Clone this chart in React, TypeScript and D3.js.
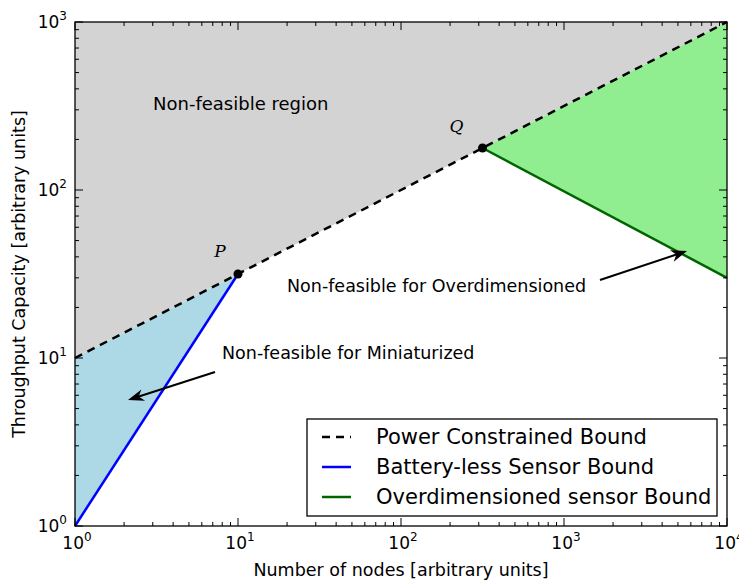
import React from "react";
import * as d3 from "d3";

// Bound lines (x = number of nodes, y = throughput capacity)
const powerBound: [number, number][] = [
  [1, 10],
  [10000, 1000],
];
const batterylessBound: [number, number][] = [
  [1, 1],
  [10, 31.62],
];
const overdimBound: [number, number][] = [
  [316.2, 177.8],
  [10000, 30],
];
const pointP: [number, number] = [10, 31.62];
const pointQ: [number, number] = [316.2, 177.8];

const xDomain: [number, number] = [1, 10000];
const yDomain: [number, number] = [1, 1000];
const xMajorExps = [0, 1, 2, 3, 4];
const yMajorExps = [0, 1, 2, 3];

const legendItems = [
  { label: "Power Constrained Bound", color: "#000000", dash: "8,6" },
  { label: "Battery-less Sensor Bound", color: "#0000ff", dash: "" },
  { label: "Overdimensioned sensor Bound", color: "#006400", dash: "" },
];

const W = 739;
const H = 581;
const M = { left: 75, right: 727, top: 22, bottom: 526 };
const FONT = "DejaVu Sans, sans-serif";

export default function App() {
  const x = d3.scaleLog().domain(xDomain).range([M.left, M.right]);
  const y = d3.scaleLog().domain(yDomain).range([M.bottom, M.top]);
  const line = d3
    .line<[number, number]>()
    .x((d) => x(d[0]))
    .y((d) => y(d[1]));

  const poly = (pts: [number, number][]) =>
    pts.map((d) => `${x(d[0])},${y(d[1])}`).join(" ");

  // shaded regions
  const grayRegion = poly([
    powerBound[0],
    powerBound[1],
    [xDomain[1], yDomain[1]],
    [xDomain[0], yDomain[1]],
  ]);
  const blueRegion = poly([batterylessBound[0], batterylessBound[1], [1, 10]]);
  const greenRegion = poly([overdimBound[0], [10000, 1000], overdimBound[1]]);

  const minor = (exps: number[]) => {
    const out: number[] = [];
    for (let i = 0; i < exps.length - 1; i++)
      for (let k = 2; k <= 9; k++) out.push(k * Math.pow(10, exps[i]));
    return out;
  };
  const xMinor = minor(xMajorExps);
  const yMinor = minor(yMajorExps);

  const tickStroke = { stroke: "#000", strokeWidth: 1 };

  const arrowHead = (x1: number, y1: number, x2: number, y2: number) => {
    const ang = Math.atan2(y2 - y1, x2 - x1);
    const len = 16;
    const wid = 6;
    const bx = x2 - len * Math.cos(ang);
    const by = y2 - len * Math.sin(ang);
    const nx = -Math.sin(ang);
    const ny = Math.cos(ang);
    const ix = x2 - len * 0.7 * Math.cos(ang);
    const iy = y2 - len * 0.7 * Math.sin(ang);
    return `${x2},${y2} ${bx + nx * wid},${by + ny * wid} ${ix},${iy} ${bx - nx * wid},${by - ny * wid}`;
  };

  const arrows = [
    { x1: 215, y1: 372, x2: 128, y2: 400 },
    { x1: 600, y1: 280, x2: 687, y2: 251 },
  ];

  return (
    <svg width={W} height={H} style={{ position: "absolute", left: 0, top: 0 }}>
      <rect width={W} height={H} fill="#fff" />
      <polygon points={grayRegion} fill="#d3d3d3" />
      <polygon points={blueRegion} fill="#add8e6" />
      <polygon points={greenRegion} fill="#90ee90" />

      <path d={line(batterylessBound) || ""} stroke="#0000ff" strokeWidth={2.5} fill="none" />
      <path d={line(overdimBound) || ""} stroke="#006400" strokeWidth={2.5} fill="none" />
      <path
        d={line(powerBound) || ""}
        stroke="#000"
        strokeWidth={2.5}
        strokeDasharray="8,6"
        fill="none"
      />

      <circle cx={x(pointP[0])} cy={y(pointP[1])} r={4.5} fill="#000" />
      <circle cx={x(pointQ[0])} cy={y(pointQ[1])} r={4.5} fill="#000" />
      <text
        x={x(pointP[0]) - 18}
        y={y(pointP[1]) - 17}
        fontFamily="DejaVu Serif, serif"
        fontStyle="italic"
        fontSize={17}
        textAnchor="middle"
      >
        P
      </text>
      <text
        x={x(pointQ[0]) - 26}
        y={y(pointQ[1]) - 16}
        fontFamily="DejaVu Serif, serif"
        fontStyle="italic"
        fontSize={17}
        textAnchor="middle"
      >
        Q
      </text>

      <text x={153} y={110} fontFamily={FONT} fontSize={18}>
        Non-feasible region
      </text>
      <text x={222} y={359} fontFamily={FONT} fontSize={17.5}>
        Non-feasible for Miniaturized
      </text>
      <text x={287} y={292} fontFamily={FONT} fontSize={17.5}>
        Non-feasible for Overdimensioned
      </text>

      {arrows.map((a, i) => (
        <g key={i}>
          <line x1={a.x1} y1={a.y1} x2={a.x2 + (a.x1 - a.x2) * 0.08} y2={a.y2 + (a.y1 - a.y2) * 0.08} stroke="#000" strokeWidth={2} />
          <polygon points={arrowHead(a.x1, a.y1, a.x2, a.y2)} fill="#000" />
        </g>
      ))}

      {/* ticks on all four spines, pointing inward */}
      {xMajorExps.map((e) => {
        const px = x(Math.pow(10, e));
        return (
          <g key={"xm" + e}>
            <line x1={px} x2={px} y1={M.bottom} y2={M.bottom - 8} {...tickStroke} />
            <line x1={px} x2={px} y1={M.top} y2={M.top + 8} {...tickStroke} />
          </g>
        );
      })}
      {xMinor.map((v) => {
        const px = x(v);
        return (
          <g key={"xn" + v}>
            <line x1={px} x2={px} y1={M.bottom} y2={M.bottom - 4} {...tickStroke} />
            <line x1={px} x2={px} y1={M.top} y2={M.top + 4} {...tickStroke} />
          </g>
        );
      })}
      {yMajorExps.map((e) => {
        const py = y(Math.pow(10, e));
        return (
          <g key={"ym" + e}>
            <line x1={M.left} x2={M.left + 8} y1={py} y2={py} {...tickStroke} />
            <line x1={M.right} x2={M.right - 8} y1={py} y2={py} {...tickStroke} />
          </g>
        );
      })}
      {yMinor.map((v) => {
        const py = y(v);
        return (
          <g key={"yn" + v}>
            <line x1={M.left} x2={M.left + 4} y1={py} y2={py} {...tickStroke} />
            <line x1={M.right} x2={M.right - 4} y1={py} y2={py} {...tickStroke} />
          </g>
        );
      })}

      <rect
        x={M.left}
        y={M.top}
        width={M.right - M.left}
        height={M.bottom - M.top}
        fill="none"
        stroke="#000"
        strokeWidth={1.3}
      />

      {/* tick labels */}
      {xMajorExps.map((e) => (
        <text
          key={"xl" + e}
          x={x(Math.pow(10, e)) + 2}
          y={M.bottom + 23}
          fontFamily={FONT}
          fontSize={17}
          textAnchor="middle"
        >
          10
          <tspan dy={-8} fontSize={12}>
            {e}
          </tspan>
        </text>
      ))}
      {yMajorExps.map((e) => (
        <text
          key={"yl" + e}
          x={M.left - 8}
          y={y(Math.pow(10, e)) + 6}
          fontFamily={FONT}
          fontSize={17}
          textAnchor="end"
        >
          10
          <tspan dy={-8} fontSize={12}>
            {e}
          </tspan>
        </text>
      ))}

      <text
        x={(M.left + M.right) / 2}
        y={576}
        fontFamily={FONT}
        fontSize={17.5}
        textAnchor="middle"
      >
        Number of nodes [arbitrary units]
      </text>
      <text
        transform={`translate(25,${(M.top + M.bottom) / 2}) rotate(-90)`}
        fontFamily={FONT}
        fontSize={17.5}
        textAnchor="middle"
      >
        Throughput Capacity [arbitrary units]
      </text>

      {/* legend */}
      <rect x={307} y={419} width={410} height={97} fill="#fff" stroke="#000" strokeWidth={1.3} />
      {legendItems.map((it, i) => {
        const ly = 437 + i * 30;
        return (
          <g key={it.label}>
            <line
              x1={322}
              x2={351}
              y1={ly}
              y2={ly}
              stroke={it.color}
              strokeWidth={2.5}
              strokeDasharray={it.dash || undefined}
            />
            <text x={376} y={ly + 7} fontFamily={FONT} fontSize={21}>
              {it.label}
            </text>
          </g>
        );
      })}
    </svg>
  );
}
